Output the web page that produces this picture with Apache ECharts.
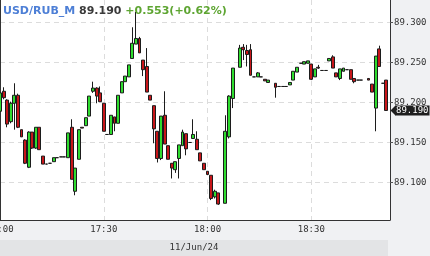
<!DOCTYPE html>
<html><head><meta charset="utf-8">
<script src="https://cdn.jsdelivr.net/npm/echarts@6/dist/echarts.min.js"></script>
<style>html,body{margin:0;padding:0;background:#f0f1f3;}#c{width:430px;height:256px;}</style>
</head><body><div id="c"></div>
<script>
const symbolName = "USD/RUB_M";
const lastPrice = "89.190";
const changeText = "+0.553(+0.62%)";
const dateText = "11/Jun/24";
const lastValue = 89.190;

const times = [
"17:00","17:01","17:02","17:03","17:04","17:05","17:06","17:07","17:08","17:09","17:10","17:11","17:12","17:13",
"17:15","17:16","17:17","17:18","17:19","17:20","17:21","17:22","17:23","17:24","17:25","17:26","17:27","17:28","17:29",
"17:30","17:31","17:32","17:33","17:34","17:35","17:36","17:37","17:38","17:39","17:40","17:41","17:42","17:43",
"17:45","17:46","17:47","17:48","17:49","17:50","17:51","17:52","17:53","17:54","17:55","17:56","17:57","17:58","17:59",
"18:00","18:01","18:02","18:03","18:04","18:05","18:06","18:07","18:08","18:09","18:10","18:11","18:12","18:13",
"18:15","18:16","18:17","18:18","18:19","18:20","18:21","18:22","18:23","18:24","18:25","18:26","18:27","18:28","18:29",
"18:30","18:31","18:32","18:33","18:34","18:35","18:36","18:37","18:38","18:39","18:40","18:41","18:42","18:43",
"18:44","18:45","18:46","18:47","18:48","18:49","18:50","18:51","18:52"];

const opens = [
89.189,89.214,89.203,89.176,89.199,89.209,89.166,89.153,89.119,89.163,
89.143,89.169,89.133,89.123,89.124,89.126,89.131,89.132,89.132,89.131,
89.169,89.089,89.129,89.169,89.171,89.183,89.214,89.218,89.212,89.199,
89.160,89.160,89.182,89.174,89.212,89.226,89.232,89.255,89.273,89.280,
89.253,89.245,89.209,89.196,89.164,89.130,89.184,89.146,89.124,89.116,
89.130,89.146,89.161,89.150,89.155,89.154,89.137,89.124,89.114,89.109,
89.082,89.087,null,89.074,89.157,89.205,null,89.244,89.269,89.265,
89.266,89.232,89.232,89.232,89.229,89.225,null,89.224,89.220,89.220,
89.220,89.222,89.228,89.238,89.249,89.248,89.249,89.248,89.232,89.244,
89.240,89.240,89.252,89.257,89.237,89.230,89.239,89.241,89.241,89.230,
89.228,89.228,null,89.230,89.223,89.193,89.267,89.224,89.228,null];

const closes = [
89.212,89.206,89.173,89.199,89.209,89.169,89.157,89.124,89.163,89.143,
89.169,89.141,89.123,89.123,89.124,89.131,89.131,89.132,89.132,89.162,
89.104,89.118,89.166,89.168,89.181,89.208,89.218,89.208,89.201,89.164,
89.160,89.184,89.174,89.209,89.226,89.233,89.247,89.274,89.280,89.262,
89.241,89.213,89.203,89.167,89.130,89.183,89.148,89.129,89.118,89.126,
89.147,89.163,89.142,89.150,89.160,89.141,89.127,89.116,89.110,89.080,
89.089,89.073,null,89.164,89.208,89.243,null,89.268,89.266,89.260,
89.234,89.232,89.237,89.232,89.227,89.228,null,89.219,89.220,89.220,
89.220,89.225,89.239,89.244,89.249,89.251,89.252,89.229,89.242,89.243,
89.240,89.240,89.255,89.243,89.232,89.242,89.243,89.241,89.229,89.226,
89.228,89.228,null,89.228,89.213,89.258,89.245,89.224,89.190,null];

const lows = [
89.187,89.204,89.169,89.174,89.166,89.168,89.157,89.123,89.118,89.142,
89.142,89.141,89.123,89.123,89.124,89.126,89.131,89.132,89.132,89.131,
89.104,89.084,89.129,89.168,89.171,89.183,89.212,89.199,89.201,89.164,
89.160,89.160,89.164,89.174,89.212,89.226,89.232,89.255,89.273,89.262,
89.233,89.213,89.203,89.149,89.125,89.128,89.148,89.129,89.105,89.112,
89.105,89.146,89.134,89.150,89.155,89.141,89.127,89.116,89.110,89.078,
89.080,89.072,null,89.074,89.155,89.193,null,89.244,89.253,89.245,
89.234,89.232,89.232,89.232,89.227,89.225,null,89.206,89.220,89.220,
89.220,89.222,89.228,89.238,89.249,89.248,89.249,89.228,89.232,89.242,
89.240,89.240,89.252,89.243,89.232,89.228,89.239,89.241,89.229,89.224,
89.228,89.228,null,89.228,89.213,89.164,89.245,89.224,89.190,null];

const highs = [
89.216,89.219,89.204,89.201,89.224,89.211,89.166,89.154,89.164,89.163,
89.169,89.169,89.133,89.123,89.124,89.131,89.131,89.132,89.132,89.162,
89.179,89.118,89.166,89.169,89.181,89.208,89.226,89.219,89.220,89.199,
89.160,89.184,89.182,89.209,89.226,89.233,89.247,89.294,89.313,89.282,
89.253,89.268,89.209,89.196,89.164,89.183,89.214,89.146,89.124,89.126,
89.147,89.166,89.161,89.150,89.179,89.164,89.137,89.124,89.114,89.109,
89.091,89.087,null,89.184,89.209,89.243,null,89.272,89.273,89.272,
89.273,89.232,89.238,89.232,89.229,89.228,null,89.224,89.220,89.220,
89.220,89.225,89.239,89.244,89.249,89.251,89.252,89.248,89.242,89.247,
89.240,89.240,89.255,89.259,89.237,89.242,89.243,89.241,89.241,89.230,
89.228,89.228,null,89.230,89.223,89.258,89.271,89.224,89.228,null];

const yMin = 89.0531, yMax = 89.3281;

const candles = opens.map((o, i) => o == null ? ['-','-','-','-'] : [o, closes[i], lows[i], highs[i]]);
const isMajor = (i, v) => /:(00|30)$/.test(v);
const mono = 'DejaVu Sans Mono';

const chart = echarts.init(document.getElementById('c'), null, {renderer: 'canvas'});
chart.setOption({
  animation: false,
  backgroundColor: '#f0f1f3',
  title: {
    left: 3, top: 6, padding: 0,
    text: '{a|' + symbolName + '} {b|' + lastPrice + '} {c|' + changeText + '}',
    textStyle: {
      fontFamily: 'DejaVu Sans', fontSize: 11, fontWeight: 'bold', color: '#333',
      rich: {
        a: {color: '#4d7fd6', fontFamily: 'DejaVu Sans', fontSize: 11, fontWeight: 'bold'},
        b: {color: '#3a3a3a', fontFamily: 'DejaVu Sans', fontSize: 11, fontWeight: 'bold'},
        c: {color: '#5ea532', fontFamily: 'DejaVu Sans', fontSize: 11, fontWeight: 'bold'}
      }
    }
  },
  grid: {left: 0, right: 40, top: 0, bottom: 36, show: true, backgroundColor: '#ffffff', borderWidth: 0, containLabel: false, outerBoundsMode: 'none'},
  xAxis: {
    type: 'category', data: times, boundaryGap: false,
    axisLine: {show: true, lineStyle: {color: '#333', width: 1}},
    axisTick: {show: false},
    axisLabel: {interval: isMajor, color: '#333', fontFamily: mono, fontSize: 9, margin: 5, showMinLabel: true},
    splitLine: {show: true, interval: isMajor, lineStyle: {color: '#dcdcdc', type: [5, 4], width: 1}}
  },
  yAxis: [{
    type: 'value', position: 'right', min: yMin, max: yMax, scale: true,
    axisLine: {show: true, lineStyle: {color: '#333', width: 1}},
    axisTick: {show: true, length: 3, lineStyle: {color: '#555'}},
    axisLabel: {color: '#333', fontFamily: mono, fontSize: 9, margin: 4, showMinLabel: false, showMaxLabel: false,
      formatter: v => v.toFixed(3)},
    splitLine: {show: true, showMinLine: false, showMaxLine: false, lineStyle: {color: '#dcdcdc', type: [5, 4], width: 1}}
  }, {
    type: 'value', position: 'left', min: yMin, max: yMax, scale: true,
    axisLine: {show: true, lineStyle: {color: '#333', width: 1}},
    axisTick: {show: false}, axisLabel: {show: false}, splitLine: {show: false}
  }],
  graphic: [
    {type: 'rect', shape: {x: 0, y: 240, width: 388, height: 16}, style: {fill: '#e3e4e6'}, silent: true, z: 0},
    {type: 'text', x: 194, y: 248, style: {text: dateText, fill: '#333', font: '9px "DejaVu Sans Mono"', textAlign: 'center', textVerticalAlign: 'middle'}, silent: true, z: 1}
  ],
  series: [{
    type: 'candlestick', data: candles, barWidth: 3.4, clip: true, yAxisIndex: 0, zlevel: 1,
    itemStyle: {color: '#2fdc2f', color0: '#c8161a', borderColor: '#1c1c1c', borderColor0: '#1c1c1c', borderColorDoji: '#1c1c1c', borderWidth: 1},
    emphasis: {disabled: true},
    markLine: {
      silent: true, symbol: ['none', 'none'], animation: false, z: 10,
      lineStyle: {color: 'rgba(0,0,0,0)', width: 0},
      label: {show: true, position: 'end', distance: 5, formatter: lastPrice, opacity: 1,
        backgroundColor: '#1e1e1e', color: '#ffffff', fontFamily: mono, fontSize: 9, lineHeight: 10, padding: [0, 1, 0, 1]},
      data: [{yAxis: lastValue}]
    },
    markPoint: {
      silent: true, animation: false, z: 10,
      symbol: 'triangle', symbolSize: [10, 5], symbolRotate: 90, symbolOffset: [3, 0],
      itemStyle: {color: '#1e1e1e'}, label: {show: false},
      data: [{coord: [times.length - 1, lastValue]}]
    }
  }]
});
</script></body></html>
